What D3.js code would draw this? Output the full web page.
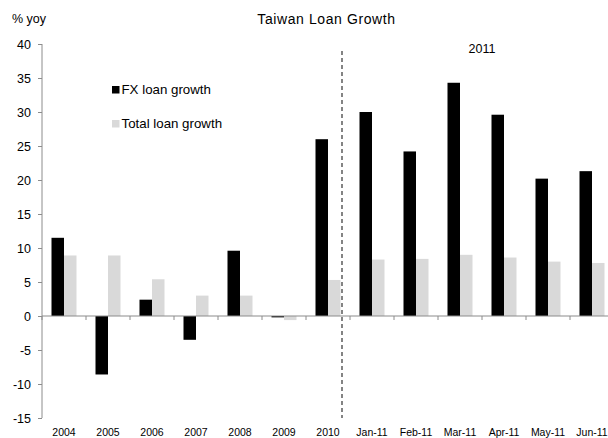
<!DOCTYPE html>
<html>
<head>
<meta charset="utf-8">
<script src="https://cdn.jsdelivr.net/npm/d3@7/dist/d3.min.js"></script>
<style>
  html, body { margin: 0; padding: 0; background: #fff; }
  svg { display: block; font-family: "Liberation Sans", Arial, Helvetica, sans-serif; }
</style>
</head>
<body>
<svg id="chart" width="608" height="438"></svg>
<script>
// Taiwan loan growth, % year on year
const categories = ["2004", "2005", "2006", "2007", "2008", "2009", "2010",
  "Jan-11", "Feb-11", "Mar-11", "Apr-11", "May-11", "Jun-11"];
const fxLoanGrowth =    [11.5, -8.6, 2.4, -3.5, 9.6, -0.2, 26.0, 30.0, 24.2, 34.3, 29.6, 20.2, 21.3];
const totalLoanGrowth = [ 8.9,  8.9, 5.4,  3.0, 3.0, -0.6,  5.3,  8.3,  8.4,  9.0,  8.6,  8.0,  7.8];
const seriesNames = ["FX loan growth", "Total loan growth"];
const yTicks = [40, 35, 30, 25, 20, 15, 10, 5, 0, -5, -10, -15];

const colors = ["#000000", "#d9d9d9"];
const axisColor = "#8c8c8c";

const svg = d3.select("#chart");
const plotLeft = 42, plotTop = 44, plotBottom = 418, bandW = 44;

const x = d3.scaleBand()
  .domain(categories)
  .range([plotLeft, plotLeft + bandW * categories.length])
  .paddingInner(0).paddingOuter(0);

const y = d3.scaleLinear().domain([-15, 40]).range([plotBottom, plotTop]);

// two bars side by side in the middle of each category slot
const inner = d3.scaleBand().domain([0, 1])
  .range([0, x.bandwidth()]).paddingOuter(0.76).paddingInner(0);

const rows = categories.map((c, i) => ({ c, v: [fxLoanGrowth[i], totalLoanGrowth[i]] }));

// Bars
const groups = svg.append("g").selectAll("g").data(rows).join("g")
  .attr("transform", d => `translate(${x(d.c)},0)`);
groups.selectAll("rect").data(d => d.v.map((v, k) => ({ v, k }))).join("rect")
  .attr("x", d => inner(d.k))
  .attr("width", inner.bandwidth())
  .attr("y", d => y(Math.max(0, d.v)))
  .attr("height", d => Math.abs(y(d.v) - y(0)))
  .attr("fill", d => colors[d.k]);

// Y axis
const yAxis = svg.append("g")
  .attr("transform", `translate(${plotLeft},0)`)
  .call(d3.axisLeft(y).tickValues(yTicks).tickSize(4).tickPadding(7).tickFormat(d3.format("d")));
yAxis.select(".domain").attr("stroke", axisColor).attr("d", `M0,${plotTop}V${plotBottom}`);
yAxis.selectAll(".tick line").attr("stroke", axisColor);
yAxis.selectAll(".tick text").attr("fill", "#000").attr("font-size", 12.5)
  .text(d => d < 0 ? "-" + Math.abs(d) : d);

// X axis at zero, ticks on category boundaries
const boundaries = d3.range(categories.length + 1).map(i => plotLeft + i * bandW);
const xAxisG = svg.append("g");
xAxisG.append("line")
  .attr("x1", plotLeft).attr("x2", boundaries[boundaries.length - 1])
  .attr("y1", y(0)).attr("y2", y(0))
  .attr("stroke", axisColor).attr("stroke-width", 1.2);
xAxisG.selectAll("line.tk").data(boundaries).join("line").attr("class", "tk")
  .attr("x1", d => d).attr("x2", d => d)
  .attr("y1", y(0)).attr("y2", y(0) + 4)
  .attr("stroke", axisColor);

// Category labels along the bottom
svg.append("g").selectAll("text").data(categories).join("text")
  .attr("x", d => x(d) + x.bandwidth() / 2)
  .attr("y", 436)
  .attr("text-anchor", "middle")
  .attr("font-size", 10.5)
  .attr("fill", "#000")
  .text(d => d);

// Divider between annual and monthly data
const divX = x("2010") + x.bandwidth() - 8;
svg.append("line")
  .attr("x1", divX).attr("x2", divX)
  .attr("y1", 51).attr("y2", plotBottom)
  .attr("stroke", "#333").attr("stroke-width", 1.2)
  .attr("stroke-dasharray", "4,3");

svg.append("text")
  .attr("x", (x("Mar-11") + x("Apr-11") + x.bandwidth()) / 2)
  .attr("y", 53).attr("text-anchor", "middle")
  .attr("font-size", 12.5).text("2011");

// Title and unit
svg.append("text").attr("x", 326.5).attr("y", 23.5).attr("text-anchor", "middle")
  .attr("font-size", 14).attr("letter-spacing", 0.6).text("Taiwan Loan Growth");
svg.append("text").attr("x", 12).attr("y", 23).attr("font-size", 12.5).text("% yoy");

// Legend
const legend = svg.append("g").selectAll("g").data(seriesNames).join("g")
  .attr("transform", (d, i) => `translate(112,${86 + i * 34})`);
legend.append("rect").attr("width", 7.5).attr("height", 7.5)
  .attr("fill", (d, i) => colors[i]);
legend.append("text").attr("x", 9.5).attr("y", 7.5).attr("font-size", 13.3).text(d => d);
</script>
</body>
</html>
